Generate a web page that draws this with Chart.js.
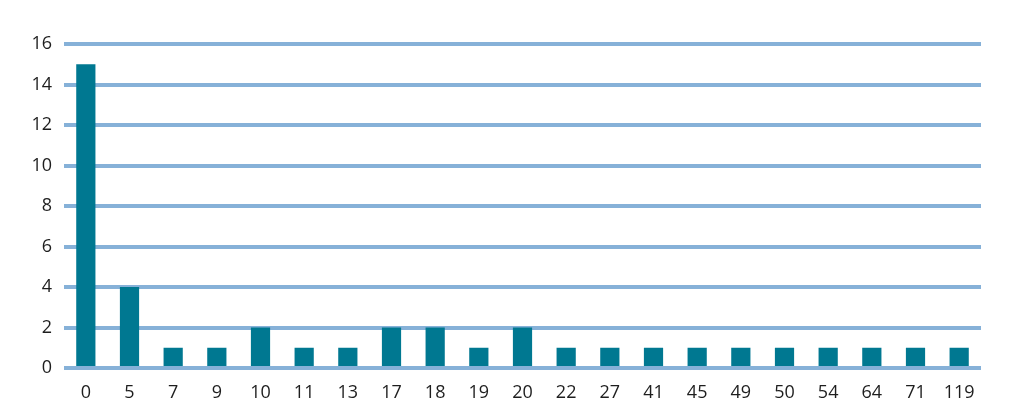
<!DOCTYPE html>
<html lang="en">
<head>
    <meta charset="UTF-8">
    <title>Bar Chart</title>
    <script src="https://cdn.jsdelivr.net/npm/chart.js"></script>
    <style>
        body { margin: 0; background: #fff; }
        #wrap { width: 1011px; height: 420px; }
    </style>
</head>
<body>
    <div id="wrap">
        <canvas id="barChart"></canvas>
    </div>

    <script>
        // Data
        const categories = ['0', '5', '7', '9', '10', '11', '13', '17', '18', '19', '20',
                            '22', '27', '41', '45', '49', '50', '54', '64', '71', '119'];
        const counts = [15, 4, 1, 1, 2, 1, 1, 2, 2, 1, 2, 1, 1, 1, 1, 1, 1, 1, 1, 1, 1];
        const yTicks = [0, 2, 4, 6, 8, 10, 12, 14, 16];

        const ctx = document.getElementById('barChart').getContext('2d');

        new Chart(ctx, {
            type: 'bar',
            data: {
                labels: categories,
                datasets: [{
                    data: counts,
                    backgroundColor: '#007891',
                    barPercentage: 0.44,
                    categoryPercentage: 1.0
                }]
            },
            options: {
                responsive: true,
                maintainAspectRatio: false,
                animation: false,
                layout: { padding: { top: 44, right: 30, left: 0, bottom: 0 } },
                plugins: {
                    legend: { display: false },
                    tooltip: { enabled: false }
                },
                scales: {
                    x: {
                        grid: { display: false },
                        border: { display: false },
                        ticks: {
                            color: '#1e1e1e',
                            font: { family: 'Open Sans', size: 18 },
                            padding: 6,
                            maxRotation: 0,
                            autoSkip: false
                        },
                        afterFit: scale => { scale.height = 52; }
                    },
                    y: {
                        min: 0,
                        max: 16,
                        afterBuildTicks: scale => {
                            scale.ticks = yTicks.map(v => ({ value: v }));
                        },
                        grid: {
                            color: '#86b1d8',
                            lineWidth: 4,
                            drawTicks: false
                        },
                        border: { display: false },
                        ticks: {
                            color: '#1e1e1e',
                            font: { family: 'Open Sans', size: 18 },
                            padding: 12
                        },
                        afterFit: scale => { scale.width = 64; }
                    }
                }
            }
        });
    </script>
</body>
</html>
